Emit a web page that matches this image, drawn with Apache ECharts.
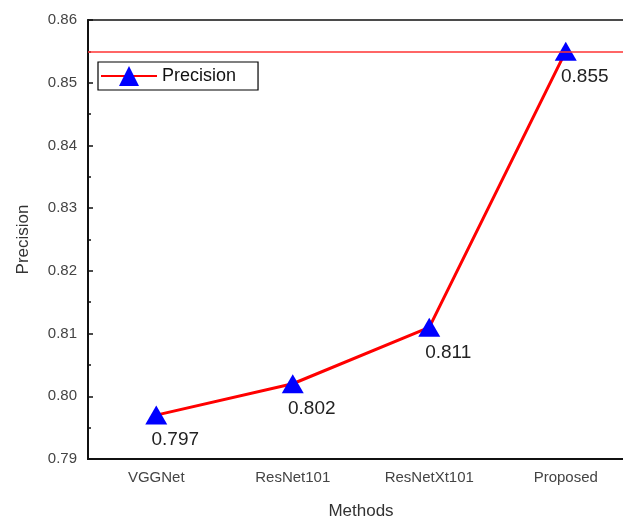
<!DOCTYPE html>
<html>
<head>
<meta charset="utf-8">
<script src="https://cdn.jsdelivr.net/npm/echarts@6/dist/echarts.min.js"></script>
<style>
  html, body { margin: 0; padding: 0; background: #fff; }
  #chart { width: 623px; height: 522px; }
</style>
</head>
<body>
<div id="chart"></div>
<script>
// Precision of each method
const methods = ['VGGNet', 'ResNet101', 'ResNetXt101', 'Proposed'];
const precision = [0.797, 0.802, 0.811, 0.855];
const bestPrecision = 0.855;
const yTicks = { min: 0.79, max: 0.86, step: 0.01 };

const font = 'Liberation Sans, Arial, sans-serif';
const chart = echarts.init(document.getElementById('chart'));

chart.setOption({
  backgroundColor: '#fff',
  animation: false,
  grid: {
    left: 88, top: 20, width: 546, height: 439,
    outerBoundsMode: 'none',
    containLabel: false,
    show: true, borderColor: '#111', borderWidth: 1.5
  },
  legend: {
    left: 98, top: 62,
    padding: [4, 22, 4, 2],
    itemWidth: 56, itemHeight: 25, itemGap: 0,
    borderColor: '#000', borderWidth: 1.2, borderRadius: 0,
    backgroundColor: '#fff',
    textStyle: { fontFamily: font, fontSize: 18, color: '#111' },
    data: ['Precision']
  },
  xAxis: [{
    type: 'category',
    data: methods,
    boundaryGap: true,
    name: 'Methods',
    nameLocation: 'middle',
    nameGap: 44,
    nameTextStyle: { fontFamily: font, fontSize: 17, color: '#333' },
    axisLine: { lineStyle: { color: '#111', width: 2 } },
    axisTick: { alignWithLabel: true, inside: true, length: 5, lineStyle: { color: '#111', width: 1.5 } },
    axisLabel: { fontFamily: font, fontSize: 15, color: '#444', margin: 11 }
  }, {
    // boundary ticks between categories
    type: 'category',
    data: methods,
    position: 'bottom',
    boundaryGap: true,
    axisLine: { show: false },
    axisTick: { inside: true, length: 3, lineStyle: { color: '#111', width: 1.5 } },
    axisLabel: { show: false }
  }],
  yAxis: {
    type: 'value',
    min: yTicks.min, max: yTicks.max, interval: yTicks.step,
    name: 'Precision',
    nameLocation: 'middle',
    nameGap: 56,
    nameTextStyle: { fontFamily: font, fontSize: 17, color: '#333' },
    axisLine: { show: true, lineStyle: { color: '#111', width: 2 } },
    axisTick: { show: true, inside: true, length: 5, lineStyle: { color: '#111', width: 1.5 } },
    minorTick: { show: true, splitNumber: 2, length: 3, lineStyle: { color: '#111', width: 1.5 } },
    splitLine: { show: false },
    axisLabel: {
      fontFamily: font, fontSize: 15, color: '#444', margin: 11,
      formatter: v => v.toFixed(2)
    }
  },
  series: [{
    name: 'Precision',
    type: 'line',
    data: precision,
    symbol: 'triangle',
    symbolSize: [22, 19],
    itemStyle: { color: '#0000ff' },
    lineStyle: { color: '#ff0000', width: 3 },
    label: {
      show: true,
      position: 'bottom',
      distance: 6,
      offset: [19, 0],
      fontFamily: font, fontSize: 19, color: '#222',
      formatter: p => p.value.toFixed(3)
    },
    markLine: {
      silent: true,
      symbol: 'none',
      precision: 3,
      label: { show: false },
      data: [{
        yAxis: bestPrecision,
        lineStyle: { color: '#ff3333', width: 1.5, type: 'solid' }
      }]
    },
    z: 3
  }]
});
</script>
</body>
</html>
